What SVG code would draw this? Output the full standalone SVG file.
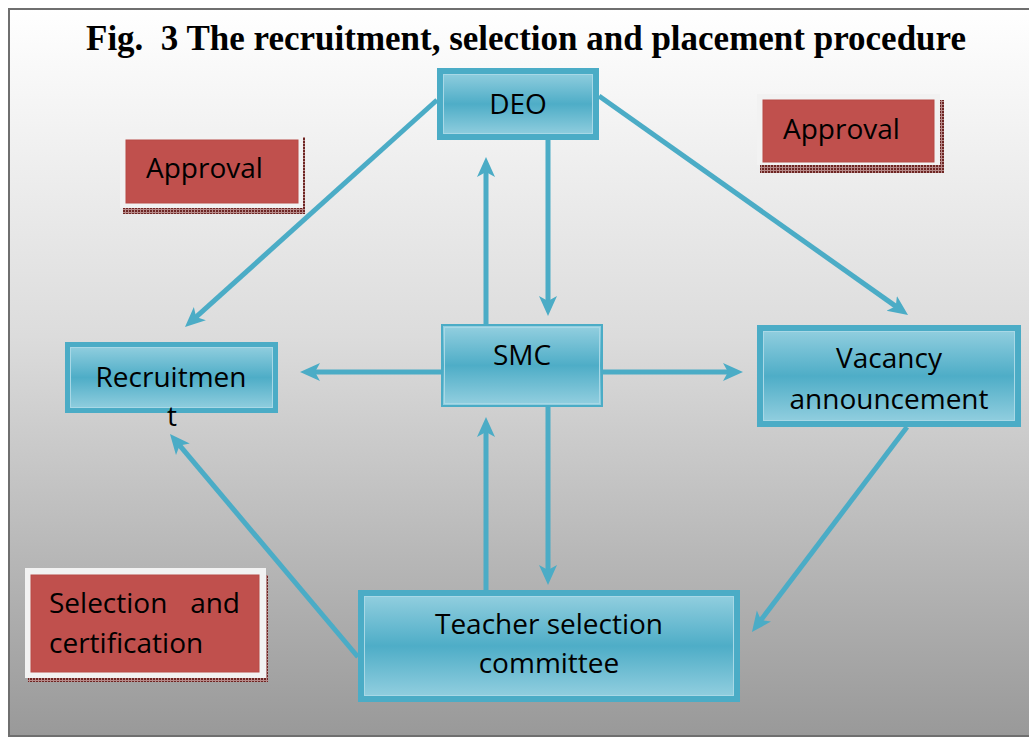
<svg xmlns="http://www.w3.org/2000/svg" width="1029" height="738" viewBox="0 0 1029 738">
<defs>
<linearGradient id="bg" x1="0" y1="0" x2="0" y2="1">
<stop offset="0" stop-color="#ffffff"/>
<stop offset="0.45" stop-color="#dcdcdc"/>
<stop offset="1" stop-color="#999999"/>
</linearGradient>
<linearGradient id="boxg" x1="0" y1="0" x2="0" y2="1">
<stop offset="0" stop-color="#95d0e0"/>
<stop offset="0.5" stop-color="#4eadc7"/>
<stop offset="1" stop-color="#95d0e0"/>
</linearGradient>
<pattern id="dots" width="3" height="3" patternUnits="userSpaceOnUse">
<rect width="3" height="3" fill="#b78a89"/>
<rect width="2" height="2" fill="#6e2624"/>
</pattern>
<marker id="ah" markerUnits="userSpaceOnUse" markerWidth="22" markerHeight="20" viewBox="0 0 22 20" refX="6" refY="9" orient="auto">
<path d="M0,0 L20,9 L0,18 L5,9 z" fill="#4bacc6"/>
</marker>
<style>
.box{fill:url(#boxg);stroke:#4bacc6;stroke-width:6}
.inner{fill:none;stroke:#a8d8e6;stroke-width:1}
.lbl{font-family:"Open Sans","DejaVu Sans",sans-serif;font-size:28px;fill:#000}
.frame{fill:#f2f2f2}
.red{fill:#c0504d;stroke:#b84a47;stroke-width:1}
.conn line{stroke:#4bacc6;stroke-width:5;marker-end:url(#ah)}
</style>
</defs>
<rect x="9" y="9" width="1030" height="727" fill="url(#bg)" stroke="#6f6f6f" stroke-width="2"/>
<text x="526" y="50" text-anchor="middle" textLength="880" lengthAdjust="spacingAndGlyphs" font-family="'Liberation Serif','Times New Roman',serif" font-weight="bold" font-size="36" fill="#000">Fig.&#160; 3 The recruitment, selection and placement procedure</text>

<g id="connectors" class="conn">
<line x1="437" y1="100" x2="195.4" y2="317.6"/>
<line x1="599" y1="96" x2="896.6" y2="306.9"/>
<line x1="486" y1="324" x2="486" y2="171"/>
<line x1="548" y1="140" x2="548" y2="302"/>
<line x1="441" y1="372" x2="314" y2="372"/>
<line x1="603" y1="372" x2="729" y2="372"/>
<line x1="548" y1="407" x2="548" y2="571"/>
<line x1="486" y1="590" x2="486" y2="431"/>
<line x1="907" y1="427" x2="760.4" y2="620.8"/>
<line x1="358" y1="657" x2="179" y2="444.7"/>
</g>

<g id="deo">
<rect class="box" x="440" y="71" width="156" height="66"/>
<rect class="inner" x="443.5" y="74.5" width="149" height="59"/>
<text class="lbl" x="518" y="114" text-anchor="middle">DEO</text>
</g>

<g id="smc">
<rect class="box" style="stroke-width:2" x="442" y="325" width="160" height="81"/>
<rect class="inner" x="444.5" y="327.5" width="155" height="76"/>
<text class="lbl" x="522" y="365" text-anchor="middle">SMC</text>
</g>

<g id="recruitment">
<rect class="box" style="stroke-width:5" x="67.5" y="344.5" width="208" height="66"/>
<rect class="inner" x="70.5" y="347.5" width="202" height="60"/>
<text class="lbl" x="171" y="387" text-anchor="middle">Recruitmen</text>
<text class="lbl" x="172" y="426" text-anchor="middle">t</text>
</g>

<g id="vacancy">
<rect class="box" x="760" y="328" width="258" height="96"/>
<rect class="inner" x="763.5" y="331.5" width="251" height="89"/>
<text class="lbl" x="889" y="368" text-anchor="middle">Vacancy</text>
<text class="lbl" x="889" y="409" text-anchor="middle">announcement</text>
</g>

<g id="teacher">
<rect class="box" x="361" y="593" width="376" height="106"/>
<rect class="inner" x="364.5" y="596.5" width="369" height="99"/>
<text class="lbl" x="549" y="634" text-anchor="middle">Teacher selection</text>
<text class="lbl" x="549" y="673" text-anchor="middle">committee</text>
</g>

<g id="approval-left">
<rect x="123" y="137" width="182" height="77" fill="url(#dots)"/>
<rect class="frame" x="120" y="133" width="183" height="75"/>
<rect class="red" x="126" y="140" width="172" height="63"/>
<text class="lbl" x="146" y="178">Approval</text>
</g>

<g id="approval-right">
<rect x="760" y="100" width="184" height="73" fill="url(#dots)"/>
<rect class="frame" x="757" y="94" width="183" height="71"/>
<rect class="red" x="763" y="100" width="171" height="62"/>
<text class="lbl" x="783" y="139">Approval</text>
</g>

<g id="selection-certification">
<rect x="28" y="575" width="240" height="107" fill="url(#dots)"/>
<rect class="frame" x="25" y="568" width="241" height="110"/>
<rect class="red" x="31" y="575" width="228" height="97"/>
<text class="lbl" x="49" y="613">Selection</text>
<text class="lbl" x="240" y="613" text-anchor="end">and</text>
<text class="lbl" x="49" y="653">certification</text>
</g>
</svg>
